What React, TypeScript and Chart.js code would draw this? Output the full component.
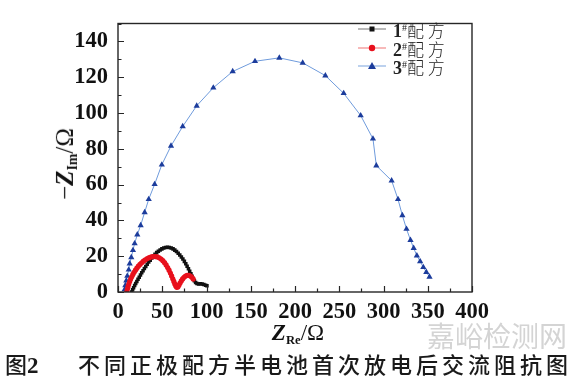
import React, { useEffect, useRef } from "react";
import { Chart, registerables } from "chart.js";
Chart.register(...registerables);

// ---- axis ticks ----
const xTicks = [0, 50, 100, 150, 200, 250, 300, 350, 400];
const yTicks = [0, 20, 40, 60, 80, 100, 120, 140];
const xMinorStep = 25;
const yMinorStep = 10;

// ---- series names ----
const seriesNums = ["1", "2", "3"];
const seriesWord = "配 方";

// ---- series 1 (black squares) ----
const s1Re = [15.4, 16.5, 17.6, 18.8, 20, 21.3, 22.6, 24, 25.4, 26.8, 28.3, 29.8, 31.4, 33, 34.7, 36.4, 38.2, 40, 41.8, 43.7, 45.6, 47.6, 49.6, 51.7, 53.8, 55.9, 58, 60.1, 62.2, 64.2, 66.1, 68, 69.8, 71.6, 73.3, 75, 76.6, 78.1, 79.6, 81, 82.4, 83.7, 85, 86.3, 87.7, 89.2, 91, 93, 95, 97, 99, 100.5];
const s1Im = [0, 1.2, 2.4, 3.6, 4.7, 5.9, 7.1, 8.3, 9.5, 10.7, 11.9, 13.1, 14.3, 15.5, 16.7, 17.8, 19.0, 20.1, 21.1, 22.0, 22.8, 23.5, 24.1, 24.6, 24.9, 25.0, 24.9, 24.6, 24.1, 23.4, 22.6, 21.7, 20.7, 19.6, 18.4, 17.1, 15.8, 14.4, 13.0, 11.6, 10.2, 8.8, 7.5, 6.3, 5.3, 4.7, 4.5, 4.6, 4.5, 4.2, 3.8, 3.5];

// ---- series 2 (red circles) ----
const s2Re = [9.8, 10.5, 11.3, 12.2, 13.2, 14.3, 15.5, 16.8, 18.2, 19.7, 21.3, 23, 24.8, 26.7, 28.7, 30.8, 33, 35.2, 37.5, 39.8, 42.1, 44.4, 46.6, 48.7, 50.7, 52.6, 54.4, 56.1, 57.7, 59.2, 60.6, 61.9, 63.1, 64.2, 65.3, 66.4, 67.6, 68.8, 70.1, 71.5, 73, 74.6, 76.3, 78.1, 80, 81.8, 83.5, 85];
const s2Im = [0, 1.5, 3.0, 4.4, 5.8, 7.2, 8.5, 9.8, 11.0, 12.2, 13.3, 14.4, 15.4, 16.3, 17.2, 18.0, 18.7, 19.2, 19.6, 19.8, 19.8, 19.6, 19.1, 18.4, 17.5, 16.4, 15.1, 13.7, 12.2, 10.6, 9.0, 7.4, 5.9, 4.5, 3.3, 2.6, 2.8, 3.8, 5.0, 6.2, 7.3, 8.2, 8.9, 9.3, 9.3, 8.9, 8.2, 7.2];

// ---- series 3 (blue triangles) ----
const s3Re = [7.5, 8.3, 9.4, 10.5, 12.1, 13.2, 15.0, 16.9, 18.8, 21.8, 25.6, 30.1, 34.7, 41.4, 49.5, 59.9, 73.1, 88.9, 107.7, 129.6, 154.8, 182.3, 208.7, 234.3, 255.0, 274.2, 288.1, 291.9, 309.2, 316.4, 321.3, 326.0, 330.5, 334.1, 337.7, 341.4, 345.0, 348.4, 352.0];
const s3Im = [1.4, 3.7, 6.3, 8.9, 12.4, 15.8, 19.3, 23.3, 27.1, 32.0, 37.2, 44.5, 51.8, 60.2, 71.1, 81.6, 92.5, 104.0, 114.1, 123.2, 128.9, 130.8, 128.0, 120.9, 111.0, 98.6, 85.6, 70.6, 62.2, 51.8, 42.8, 35.2, 29.0, 24.5, 20.3, 17.1, 13.8, 11.1, 8.4];

const toPts = (xs: number[], ys: number[]) => xs.map((x, i) => ({ x, y: ys[i] }));

const tickFont = { family: "'Liberation Serif', serif", size: 22.5, weight: "bold" as const };

const frameTicks = {
  id: "frameTicks",
  afterDraw(chart: any) {
    const { ctx, chartArea: a, scales } = chart;
    const xs = scales.x;
    const ys = scales.y;
    ctx.save();
    ctx.strokeStyle = "#262626";
    ctx.lineWidth = 1.4;
    ctx.strokeRect(a.left, a.top, a.right - a.left, a.bottom - a.top);
    ctx.lineWidth = 1.2;
    ctx.beginPath();
    for (let v = xs.min; v <= xs.max; v += xMinorStep) {
      const px = Math.round(xs.getPixelForValue(v)) + 0.5;
      const len = v % 50 === 0 ? 6 : 3.5;
      ctx.moveTo(px, a.bottom);
      ctx.lineTo(px, a.bottom - len);
    }
    for (let v = ys.min; v <= ys.max; v += yMinorStep) {
      const py = Math.round(ys.getPixelForValue(v)) + 0.5;
      const len = v % 20 === 0 ? 6 : 3.5;
      ctx.moveTo(a.left, py);
      ctx.lineTo(a.left + len, py);
    }
    ctx.stroke();
    ctx.restore();
  },
};

function LegendRow({ idx, cy }: { idx: number; cy: number }) {
  const lineColors = ["#8a8a8a", "#f28a8a", "#8fb2e2"];
  const marker =
    idx === 0 ? (
      <rect x={14.5} y={3.5} width={5} height={5} fill="#111" />
    ) : idx === 1 ? (
      <circle cx={17} cy={6} r={3.2} fill="#e8101c" />
    ) : (
      <polygon points="17,2 21,9 13,9" fill="#1c3c9c" />
    );
  return (
    <>
      <svg
        width={34}
        height={12}
        style={{ position: "absolute", left: 355, top: cy - 6 }}
      >
        <line x1={3} y1={6} x2={31} y2={6} stroke={lineColors[idx]} strokeWidth={1.2} />
        {marker}
      </svg>
      <div
        style={{
          position: "absolute",
          left: 393,
          top: cy,
          transform: "translateY(-50%)",
          whiteSpace: "nowrap",
          lineHeight: 1,
          color: "#222",
        }}
      >
        <span style={{ font: "bold 18px 'Liberation Serif', serif" }}>{seriesNums[idx]}</span>
        <sup style={{ font: "10px 'Liberation Serif', serif", verticalAlign: "0.55em" }}>#</sup>
        <span style={{ font: "17px 'Noto Sans CJK SC', sans-serif", fontWeight: 300 }}>{seriesWord}</span>
      </div>
    </>
  );
}

export default function App() {
  const ref = useRef<HTMLCanvasElement>(null);

  useEffect(() => {
    if (!ref.current) return;
    const chart = new Chart(ref.current, {
      type: "scatter",
      data: {
        datasets: [
          {
            label: "1#配方",
            data: toPts(s1Re, s1Im),
            showLine: true,
            borderColor: "#555",
            borderWidth: 1,
            pointStyle: "rect",
            pointRadius: 2.5,
            pointBackgroundColor: "#111",
            pointBorderColor: "#111",
            pointBorderWidth: 0,
            order: 2,
          },
          {
            label: "2#配方",
            data: toPts(s2Re, s2Im),
            showLine: true,
            borderColor: "#e8101c",
            borderWidth: 1.5,
            pointStyle: "circle",
            pointRadius: 2.6,
            pointBackgroundColor: "#e8101c",
            pointBorderColor: "#e8101c",
            pointBorderWidth: 0,
            order: 1,
          },
          {
            label: "3#配方",
            data: toPts(s3Re, s3Im),
            showLine: true,
            borderColor: "#6f9bdc",
            borderWidth: 1,
            pointStyle: "triangle",
            pointRadius: 3.6,
            pointBackgroundColor: "#1c3c9c",
            pointBorderColor: "#1c3c9c",
            pointBorderWidth: 0,
            order: 3,
          },
        ],
      },
      options: {
        responsive: false,
        animation: false,
        events: [],
        layout: { padding: { top: 4, right: 105, bottom: 0, left: 0 } },
        plugins: { legend: { display: false }, tooltip: { enabled: false } },
        scales: {
          x: {
            type: "linear",
            min: 0,
            max: 400,
            grid: { display: false, drawTicks: false },
            border: { display: false },
            ticks: { padding: 7, font: tickFont, color: "#111", maxRotation: 0, autoSkip: false },
            afterBuildTicks: (s: any) => {
              s.ticks = xTicks.map((v) => ({ value: v }));
            },
            afterFit: (s: any) => {
              s.height = 87;
            },
          },
          y: {
            type: "linear",
            min: 0,
            max: 150,
            grid: { display: false, drawTicks: false },
            border: { display: false },
            ticks: { padding: 10, font: tickFont, color: "#111", autoSkip: false },
            afterBuildTicks: (s: any) => {
              s.ticks = yTicks.map((v) => ({ value: v }));
            },
            afterFit: (s: any) => {
              s.width = 118;
            },
          },
        },
      },
      plugins: [frameTicks],
    });
    return () => chart.destroy();
  }, []);

  return (
    <div style={{ position: "fixed", left: 0, top: 0, width: 577, height: 379, background: "#fff", overflow: "hidden" }}>
      <canvas
        ref={ref}
        width={577}
        height={379}
        style={{ position: "absolute", left: 0, top: 0, width: 577, height: 379 }}
      />
      {/* y-axis title */}
      <div
        style={{
          position: "absolute",
          left: 66,
          top: 164,
          transform: "translate(-50%, -50%) rotate(-90deg)",
          whiteSpace: "nowrap",
          lineHeight: 1,
          color: "#111",
          font: "25px 'Liberation Serif', serif",
        }}
      >
        −<b><i>Z</i></b>
        <sub style={{ fontSize: "0.55em", fontWeight: "bold", verticalAlign: "-0.3em" }}>Im</sub>/Ω
      </div>
      {/* x-axis title */}
      <div
        style={{
          position: "absolute",
          left: 298,
          top: 334,
          transform: "translate(-50%, -50%)",
          whiteSpace: "nowrap",
          lineHeight: 1,
          color: "#111",
          font: "23px 'Liberation Serif', serif",
        }}
      >
        <b><i>Z</i></b>
        <sub style={{ fontSize: "0.55em", fontWeight: "bold", verticalAlign: "-0.3em" }}>Re</sub>/Ω
      </div>
      {/* legend */}
      <LegendRow idx={0} cy={29} />
      <LegendRow idx={1} cy={47.5} />
      <LegendRow idx={2} cy={66} />
      {/* watermark */}
      <div
        style={{
          position: "absolute",
          left: 427,
          top: 335,
          transform: "translateY(-50%)",
          whiteSpace: "nowrap",
          lineHeight: 1,
          color: "#d4d4d4",
          font: "28px 'Noto Sans CJK SC', sans-serif",
        }}
      >
        嘉峪检测网
      </div>
      {/* caption */}
      <div
        style={{
          position: "absolute",
          left: 5,
          top: 363,
          transform: "translateY(-50%)",
          whiteSpace: "nowrap",
          lineHeight: 1,
          color: "#1a1a1a",
          font: "500 22px 'Noto Sans CJK SC', sans-serif",
        }}
      >
        图<span style={{ font: "bold 23px 'Liberation Serif', serif" }}>2</span>
      </div>
      <div
        style={{
          position: "absolute",
          left: 78,
          top: 363,
          transform: "translateY(-50%)",
          whiteSpace: "nowrap",
          lineHeight: 1,
          color: "#1a1a1a",
          letterSpacing: "4px",
          font: "500 22px 'Noto Sans CJK SC', sans-serif",
        }}
      >
        不同正极配方半电池首次放电后交流阻抗图
      </div>
    </div>
  );
}
